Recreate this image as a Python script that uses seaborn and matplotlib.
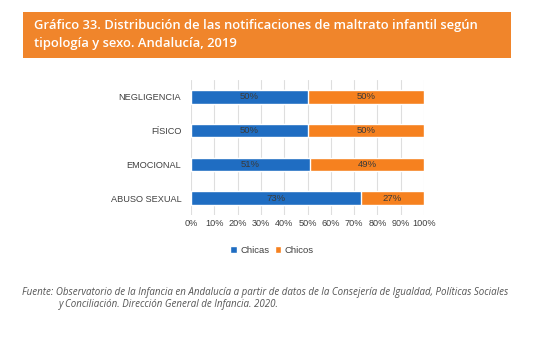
import matplotlib
matplotlib.use("Agg")
import matplotlib.pyplot as plt
import seaborn as sns
import pandas as pd
from matplotlib.patches import Rectangle, Patch

categories = ["NEGLIGENCIA", "FÍSICO", "EMOCIONAL", "ABUSO SEXUAL"]
chicas = [50, 50, 51, 73]
chicos = [50, 50, 49, 27]
xticks = [0, 10, 20, 30, 40, 50, 60, 70, 80, 90, 100]

title = "Gráfico 33. Distribución de las notificaciones de maltrato infantil según\ntipología y sexo. Andalucía, 2019"
source1 = "Fuente: Observatorio de la Infancia en Andalucía a partir de datos de la Consejería de Igualdad, Políticas Sociales"
source2 = "y Conciliación. Dirección General de Infancia. 2020."

BLUE = "#1F6DC2"
ORANGE = "#F6811F"
HEADER = "#F0852B"

sns.set_theme(style="white")
plt.rcParams['font.family'] = ['Liberation Sans', 'DejaVu Sans']

df = pd.DataFrame({"cat": categories, "Chicas": chicas, "Chicos": chicos})
df["total"] = df["Chicas"] + df["Chicos"]

fig = plt.figure(figsize=(5.34, 3.40), dpi=100)
fig.patch.set_facecolor("white")

# header
fig.patches.append(Rectangle((23/534, 1-58/340), (511-23)/534, (58-12)/340,
                             transform=fig.transFigure, facecolor=HEADER,
                             edgecolor="none", zorder=0))
fig.text(34/534, 1-34.5/340, title, color="white", fontsize=9.4,
         fontweight="semibold", family=["Open Sans", "DejaVu Sans"],
         va="center", ha="left", linespacing=1.4)

ax = fig.add_axes([191/534, 1-215/340, (424-191)/534, (215-80)/340])
sns.barplot(data=df, y="cat", x="total", color=ORANGE, orient="h",
            width=0.4, ax=ax, saturation=1, zorder=2)
sns.barplot(data=df, y="cat", x="Chicas", color=BLUE, orient="h",
            width=0.4, ax=ax, saturation=1, zorder=3)

for i, (a, b) in enumerate(zip(chicas, chicos)):
    ax.text(a/2, i, f"{a}%", ha="center", va="center", fontsize=6.8, color="#3a3a3a", zorder=4)
    ax.text(a + b/2, i, f"{b}%", ha="center", va="center", fontsize=6.8, color="#3a3a3a", zorder=4)

ax.set_xlim(0, 100)
ax.set_ylim(3.5, -0.5)
ax.set_xticks(xticks)
ax.set_xticklabels([f"{t}%" for t in xticks])
ax.xaxis.grid(True, color="#dedede", linewidth=0.8, zorder=0)
ax.set_axisbelow(True)
for s in ax.spines.values():
    s.set_visible(False)
ax.set_xlabel("")
ax.set_ylabel("")
ax.tick_params(axis="both", length=0, labelsize=6.6, labelcolor="#404040")
ax.tick_params(axis="y", pad=7)
ax.tick_params(axis="x", pad=3)

handles = [Patch(facecolor=BLUE, label="Chicas"), Patch(facecolor=ORANGE, label="Chicos")]
fig.legend(handles=handles, loc="center", bbox_to_anchor=(272/534, 1-250/340),
           ncol=2, frameon=False, fontsize=6.8, handlelength=0.7, handleheight=0.7,
           handletextpad=0.35, columnspacing=0.6, labelcolor="#404040")

fig.text(22/534, 1-292/340, source1, fontsize=7, style="italic", color="#555555",
         family=["Open Sans", "DejaVu Sans"], va="center", ha="left")
fig.text(59/534, 1-305/340, source2, fontsize=7, style="italic", color="#555555",
         family=["Open Sans", "DejaVu Sans"], va="center", ha="left")

fig.savefig("out.png", dpi=100)
